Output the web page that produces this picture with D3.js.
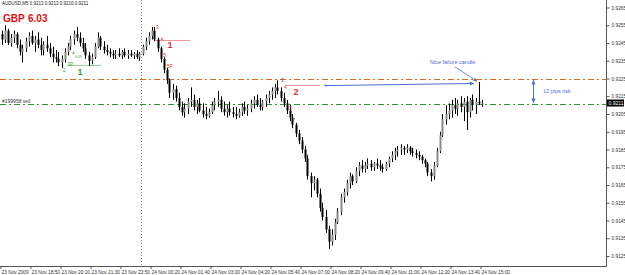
<!DOCTYPE html>
<html><head><meta charset="utf-8">
<script src="https://cdn.jsdelivr.net/npm/d3@7"></script>
<style>html,body{margin:0;padding:0;background:#fff;}svg{display:block;}</style>
</head><body>
<script>
// ---- DATA (AUDUSD M5, prices in pips: 9247 -> 0.9247) ----
const firstOpenPips = 9250;
const highsPips = [9252,9255,9253,9250,9252,9251,9247,9244,9248,9251,9252,9249,9251,9248,9246,9249,9245,9243,9241,9240,
9238,9242,9245,9249,9252,9254,9251,9248,9245,9240,9239,9245,9251,9249,9246,9244,9242,9241,9241,9242,
9241,9242,9241,9241,9240,9241,9240,9244,9248,9251,9254,9254,9248,9243,9237,9231,9225,9222,9221,9217,
9212,9211,9214,9220,9216,9213,9214,9211,9209,9208,9212,9214,9218,9215,9212,9210,9212,9209,9209,9208,
9211,9212,9210,9213,9215,9216,9214,9213,9216,9218,9220,9222,9224,9220,9217,9213,9210,9205,9200,9196,
9192,9187,9182,9172,9170,9169,9163,9155,9151,9142,9140,9146,9152,9160,9163,9168,9172,9171,9175,9178,
9179,9178,9180,9179,9178,9180,9179,9177,9178,9181,9184,9186,9187,9188,9187,9188,9187,9186,9185,9184,
9182,9180,9178,9174,9178,9186,9195,9205,9210,9211,9213,9214,9213,9215,9214,9215,9214,9216,9214,9223,9213];
const lowsPips = [9244,9245,9244,9243,9245,9242,9238,9234,9240,9243,9244,9240,9242,9238,9238,9240,9237,9234,9234,9232,
9231,9234,9238,9241,9244,9246,9243,9240,9236,9232,9233,9236,9242,9241,9239,9238,9237,9236,9236,9237,
9236,9237,9236,9237,9236,9236,9235,9238,9241,9244,9247,9246,9240,9234,9228,9222,9214,9213,9212,9207,
9204,9203,9205,9209,9207,9205,9206,9203,9202,9203,9205,9207,9209,9206,9204,9203,9204,9203,9202,9203,
9204,9205,9204,9206,9208,9209,9207,9207,9209,9211,9213,9214,9216,9212,9209,9205,9201,9197,9192,9188,
9183,9178,9168,9158,9162,9158,9150,9145,9138,9129,9131,9134,9143,9148,9155,9159,9163,9165,9166,9170,
9172,9172,9174,9173,9173,9174,9173,9172,9173,9175,9178,9179,9181,9182,9182,9183,9182,9181,9180,9179,
9177,9175,9170,9167,9168,9175,9183,9192,9199,9202,9203,9205,9204,9206,9201,9196,9203,9207,9205,9210,9209];
const closesPips = [9247,9252,9245,9248,9250,9244,9240,9242,9246,9249,9245,9247,9244,9241,9244,9242,9239,9237,9236,9234,
9236,9240,9243,9247,9250,9248,9245,9242,9238,9235,9237,9243,9248,9243,9241,9240,9239,9238,9239,9238,
9240,9238,9239,9238,9239,9237,9239,9243,9246,9249,9252,9247,9242,9236,9230,9224,9217,9219,9214,9209,
9206,9208,9212,9213,9209,9211,9207,9205,9204,9206,9210,9212,9213,9208,9206,9208,9206,9205,9204,9206,
9209,9207,9208,9211,9213,9210,9209,9212,9214,9216,9218,9220,9218,9214,9211,9207,9203,9199,9194,9190,
9185,9180,9170,9166,9168,9160,9152,9147,9140,9133,9137,9144,9150,9158,9161,9166,9170,9167,9173,9176,
9174,9176,9177,9175,9177,9176,9175,9174,9177,9180,9182,9184,9185,9186,9185,9186,9184,9183,9182,9181,
9179,9177,9172,9170,9176,9184,9193,9202,9205,9207,9210,9208,9211,9209,9212,9206,9213,9210,9212,9211,9211];
// each bar opens at the previous bar's close
const opensPips = [firstOpenPips].concat(closesPips.slice(0, -1));

const priceTicks = ["0.9265","0.9255","0.9245","0.9235","0.9225","0.9215","0.9205","0.9195","0.9185","0.9175","0.9165","0.9155","0.9145","0.9135","0.9125"];
const timeLabels = ["23 Nov 2009","23 Nov 18:50","23 Nov 20:10","23 Nov 21:30","23 Nov 22:50","24 Nov 00:20","24 Nov 01:40","24 Nov 03:00","24 Nov 04:20","24 Nov 05:40","24 Nov 07:00","24 Nov 08:20","24 Nov 09:40","24 Nov 11:00","24 Nov 12:20","24 Nov 13:40","24 Nov 15:00"];
const timeLabelBarIndex = [0,10,20,30,40,50,60,70,80,90,100,110,120,130,140,150,160];
const daySeparatorIndex = 46.67;
const stopLevel = 0.9225;     // orange line
const orderLevel = 0.92107;   // green sell line
const currentPrice = "0.9211";
const headerText = "AUDUSD,M5  0.9213 0.9213 0.9210 0.9211";
const orderText = "#199958 sell";

// ---- CHART ----
const W = 625, H = 275;
const plotRight = 606, plotBottom = 266;
const toPrice = p => p / 10000;
const x = d3.scaleLinear().domain([0, 160]).range([1.5, 481.5]);
const y = d3.scaleLinear().domain([0.9125, 0.9265]).range([256, 7.5]);

const svg = d3.select("body").append("svg").attr("width", W).attr("height", H)
  .style("font-family", "'Liberation Sans', Arial, sans-serif");

const defs = svg.append("defs");
function marker(id, color, orient) {
  defs.append("marker").attr("id", id).attr("viewBox", "0 0 10 10").attr("refX", 9).attr("refY", 5)
    .attr("markerWidth", 5).attr("markerHeight", 5).attr("orient", orient)
    .append("path").attr("d", "M0,1 L10,5 L0,9 Z").attr("fill", color);
}
marker("arrBlue", "#4a6fd0", "auto");
marker("arrBlueS", "#4a6fd0", "auto-start-reverse");

// day separator
svg.append("line").attr("x1", x(daySeparatorIndex)).attr("x2", x(daySeparatorIndex))
  .attr("y1", 0).attr("y2", plotBottom).attr("stroke", "#777").attr("stroke-width", 1)
  .attr("stroke-dasharray", "1,2");

// level lines
svg.append("line").attr("x1", 0).attr("x2", plotRight).attr("y1", Math.round(y(stopLevel)) + 0.5).attr("y2", Math.round(y(stopLevel)) + 0.5)
  .attr("stroke", "#d2691e").attr("stroke-width", 1).attr("stroke-dasharray", "6,3,2,3");
svg.append("line").attr("x1", 0).attr("x2", plotRight).attr("y1", Math.round(y(orderLevel)) + 0.5).attr("y2", Math.round(y(orderLevel)) + 0.5)
  .attr("stroke", "#2e962e").attr("stroke-width", 1).attr("stroke-dasharray", "6,3,2,3");
svg.append("text").attr("x", 2).attr("y", Math.round(y(orderLevel)) - 1).attr("font-size", 5).attr("fill", "#333").text(orderText);

// red / green dotted swing lines
function dotted(i0, i1, price, color) {
  svg.append("line").attr("x1", x(i0)).attr("x2", x(i1)).attr("y1", Math.round(y(price)) + 0.5).attr("y2", Math.round(y(price)) + 0.5)
    .attr("stroke", color).attr("stroke-width", 1).attr("stroke-dasharray", "1,1");
}
dotted(22, 33, 0.92328, "#3a9a3a");
dotted(51, 63, 0.92465, "#e03030");
dotted(95, 106, 0.92215, "#e03030");

// candles
const bars = closesPips.map((c, i) => ({
  i, o: toPrice(opensPips[i]), h: toPrice(highsPips[i]), l: toPrice(lowsPips[i]), c: toPrice(c)
}));
const g = svg.append("g");
g.selectAll("line.w").data(bars).join("line").attr("class", "w")
  .attr("x1", d => Math.round(x(d.i)) + 0.5).attr("x2", d => Math.round(x(d.i)) + 0.5)
  .attr("y1", d => y(d.h)).attr("y2", d => y(d.l)).attr("stroke", "#000").attr("stroke-width", 1);
g.selectAll("rect.b").data(bars).join("rect").attr("class", "b")
  .attr("x", d => Math.round(x(d.i)) - 0.5).attr("width", 2)
  .attr("y", d => y(Math.max(d.o, d.c)))
  .attr("height", d => Math.max(1, y(Math.min(d.o, d.c)) - y(Math.max(d.o, d.c))))
  .attr("fill", d => d.c >= d.o ? "#8a8a8a" : "#000");

// labels on swings
function lbl(i, price, txt, color, size, bold) {
  svg.append("text").attr("x", x(i)).attr("y", y(price)).attr("font-size", size)
    .attr("font-weight", bold ? "bold" : "normal").attr("fill", color).text(txt);
}
lbl(20.5, 0.92285, "2", "#3a9a3a", 4.5);
lbl(22, 0.92320, "3P", "#3a9a3a", 4.5);
lbl(23.5, 0.92385, "4", "#3a9a3a", 4.5);
lbl(24.5, 0.92365, "0.09", "#3a9a3a", 3.5);
lbl(25.3, 0.92270, "1", "#3a9a3a", 9, true);
lbl(51.5, 0.92530, "3", "#e03030", 4.5);
lbl(53, 0.92460, "4", "#e03030", 4.5);
lbl(55.3, 0.92420, "1", "#e03030", 9, true);
lbl(54, 0.92370, "5", "#e03030", 4.5);
lbl(55.2, 0.92310, "5P", "#e03030", 4.5);
lbl(93.2, 0.92230, "3", "#e03030", 4.5);
lbl(94.2, 0.92190, "4", "#e03030", 4.5);
lbl(97.3, 0.92155, "2", "#e03030", 9, true);
lbl(96, 0.92075, "5", "#e03030", 4.5);
lbl(97, 0.92005, "7", "#e03030", 4.5);

// blue annotations
svg.append("line").attr("x1", x(108)).attr("y1", y(0.92210)).attr("x2", x(157.5)).attr("y2", y(0.92222))
  .attr("stroke", "#4a6fd0").attr("stroke-width", 1).attr("marker-end", "url(#arrBlue)");
svg.append("circle").attr("cx", x(108)).attr("cy", y(0.92210)).attr("r", 1).attr("fill", "#4a6fd0");
svg.append("text").attr("x", 430).attr("y", 64).attr("font-size", 5.5).attr("fill", "#4a6fd0").text("Nice failure candle");
svg.append("line").attr("x1", 455).attr("y1", 67).attr("x2", x(158.5)).attr("y2", y(0.92235))
  .attr("stroke", "#4a6fd0").attr("stroke-width", 0.8).attr("marker-end", "url(#arrBlue)");
svg.append("line").attr("x1", 533.5).attr("x2", 533.5).attr("y1", y(stopLevel) + 1.5).attr("y2", y(orderLevel) - 1)
  .attr("stroke", "#4a6fd0").attr("stroke-width", 1)
  .attr("marker-start", "url(#arrBlueS)").attr("marker-end", "url(#arrBlue)");
svg.append("text").attr("x", 543).attr("y", 93).attr("font-size", 5.5).attr("fill", "#4a6fd0").text("12 pips risk");

// header texts
svg.append("text").attr("x", 2).attr("y", 5).attr("font-size", 4.5).attr("fill", "#222").text(headerText);
svg.append("text").attr("x", 3).attr("y", 22).attr("font-size", 10).attr("font-weight", "bold").attr("fill", "#e01010").text("GBP");
svg.append("text").attr("x", 28).attr("y", 22).attr("font-size", 10).attr("font-weight", "bold").attr("fill", "#e01010").text("6.03");

// frame / axes
svg.append("line").attr("x1", plotRight + 0.5).attr("x2", plotRight + 0.5).attr("y1", 0).attr("y2", plotBottom + 0.5).attr("stroke", "#555");
svg.append("line").attr("x1", 0).attr("x2", plotRight + 0.5).attr("y1", plotBottom + 0.5).attr("y2", plotBottom + 0.5).attr("stroke", "#555");

const yAxis = d3.axisRight(y).tickValues(priceTicks.map(Number)).tickSize(3).tickPadding(2)
  .tickFormat((d, i) => priceTicks[i]);
const ya = svg.append("g").attr("transform", `translate(${plotRight + 0.5},0)`).call(yAxis);
ya.select(".domain").remove();
ya.selectAll("line").attr("stroke", "#555");
ya.selectAll("text").attr("font-size", 4.8).attr("fill", "#333").attr("font-family", "'Liberation Sans', Arial, sans-serif");

// current price box
const cpY = y(Number(currentPrice));
svg.append("rect").attr("x", plotRight + 1).attr("y", Math.round(cpY) - 3.5).attr("width", 17).attr("height", 7).attr("fill", "#000");
svg.append("text").attr("x", plotRight + 2.5).attr("y", Math.round(cpY) + 2).attr("font-size", 5).attr("fill", "#fff").text(currentPrice);

// time axis
const xt = svg.append("g");
timeLabels.forEach((t, k) => {
  const px = Math.round(x(timeLabelBarIndex[k])) - 1.5;
  xt.append("line").attr("x1", px + 0.5).attr("x2", px + 0.5).attr("y1", plotBottom).attr("y2", plotBottom + 3).attr("stroke", "#555");
  xt.append("text").attr("x", px + 1).attr("y", 273.5).attr("font-size", 4.8).attr("fill", "#333").text(t);
});
</script>
</body></html>
